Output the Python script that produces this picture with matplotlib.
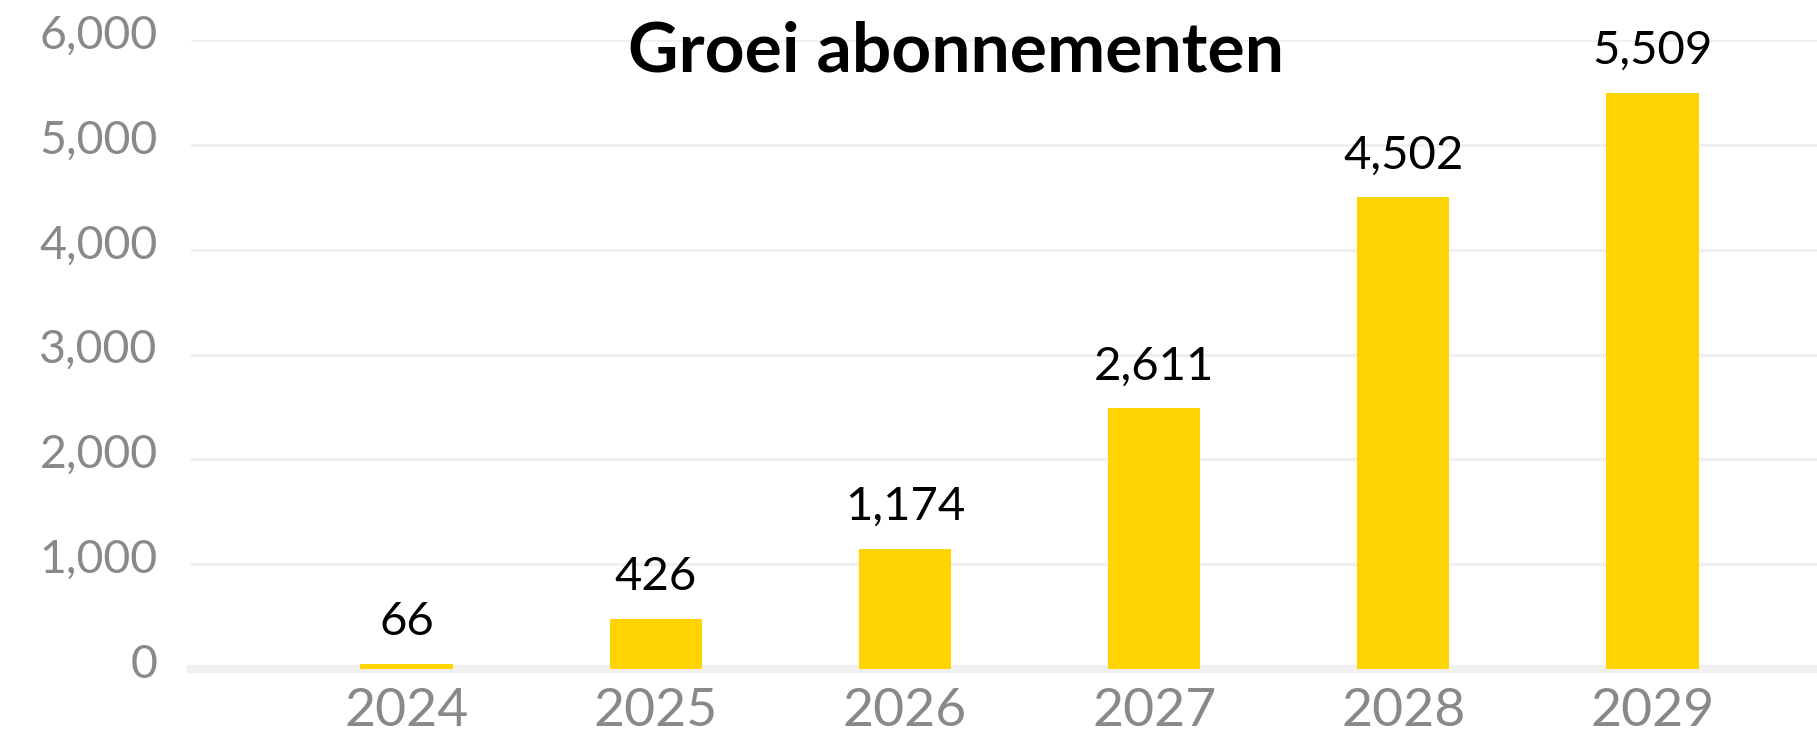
import matplotlib
matplotlib.use("Agg")
import matplotlib.pyplot as plt
import matplotlib.transforms as mtransforms

# data
years = ["2024", "2025", "2026", "2027", "2028", "2029"]
bar_values = [48, 476, 1143, 2486, 4498, 5493]      # bar heights as drawn
label_values = [66, 426, 1174, 2611, 4502, 5509]    # numbers printed above the bars
y_ticks = [0, 1000, 2000, 3000, 4000, 5000, 6000]

plt.rcParams['font.family'] = ['Lato', 'DejaVu Sans']

fig = plt.figure(figsize=(18.17, 7.33), dpi=100)
ax = fig.add_axes([191 / 1817, 1 - 669 / 733, 1 - 191 / 1817, (669 - 40) / 733])

x = list(range(len(years)))
bars = ax.bar(x, bar_values, width=0.37, color='#FFD400', zorder=3)

for xi, h, val in zip(x, bar_values, label_values):
    ax.annotate(f"{val:,}", (xi, h), xytext=(0, 21), textcoords='offset points',
                ha='center', va='baseline', fontsize=34, color='black')

ax.set_xlim(-0.865, 5.66)
ax.set_ylim(0, 6000)
ax.set_yticks(y_ticks)
ax.set_yticklabels([f"{t:,}" for t in y_ticks])
ax.set_xticks(x)
ax.set_xticklabels(years)

ax.tick_params(axis='y', length=0, pad=24, labelsize=33.5, labelcolor='#898989')
ax.tick_params(axis='x', length=0, pad=14, labelsize=38.5, labelcolor='#898989')

# nudge y labels a little above their gridlines
shift = mtransforms.ScaledTranslation(0, 6 / 72, fig.dpi_scale_trans)
for lbl in ax.get_yticklabels():
    lbl.set_transform(lbl.get_transform() + shift)

ax.grid(axis='y', color='#F0F0F0', linewidth=2.2, zorder=0)
for side in ['top', 'right', 'left']:
    ax.spines[side].set_visible(False)
ax.spines['bottom'].set_color('#F0F0F0')
ax.spines['bottom'].set_linewidth(6)
ax.spines['bottom'].set_zorder(2)

fig.text(956 / 1817, 1 - 72 / 733, "Groei abonnementen", ha='center', va='baseline',
         fontsize=50, fontweight='bold', color='black')

fig.savefig("out.png", dpi=100)
